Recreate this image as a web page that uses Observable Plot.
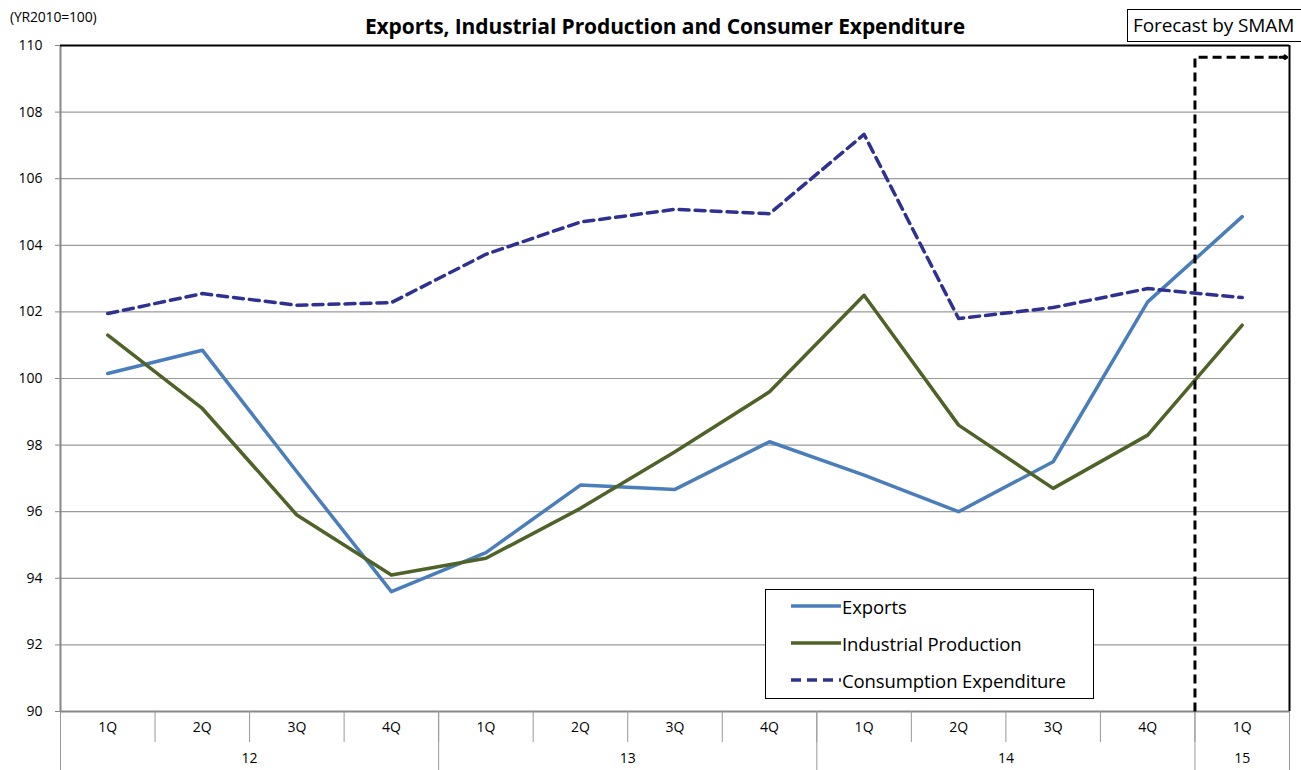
<!DOCTYPE html>
<html>
<head>
<meta charset="utf-8">
<script src="https://cdn.jsdelivr.net/npm/d3@7"></script>
<script src="https://cdn.jsdelivr.net/npm/@observablehq/plot@0.6"></script>
<style>
  body { margin: 0; background: #fff; font-family: "Open Sans", Lato, sans-serif; }
  #wrap { position: relative; width: 1301px; height: 770px; overflow: hidden; }
  #chart { position: absolute; left: 0; top: 0; }
  .title { position: absolute; left: 0; width: 1330px; top: 12px; text-align: center; font-weight: bold; font-size: 21px; color: #000; letter-spacing: -0.1px; }
  .unit { position: absolute; left: 10px; top: 7px; font-size: 14px; color: #000; letter-spacing: -0.2px; }
  .forecast { position: absolute; left: 1127px; top: 9px; width: 190px; height: 33px; border: 1px solid #000; box-sizing: border-box; font-size: 19px; line-height: 30px; padding-left: 5px; background: #fff; letter-spacing: -0.1px; }
  .legend { position: absolute; left: 765px; top: 589px; width: 329px; height: 110px; border: 1.5px solid #000; box-sizing: border-box; background: #fff; }
  .legend .row { position: absolute; left: 24px; height: 20px; display: flex; align-items: center; font-size: 18.5px; letter-spacing: -0.1px; }
  .legend svg { margin-right: 0px; }
</style>
</head>
<body>
<div id="wrap">
  <div id="chart"></div>
  <div class="unit">(YR2010=100)</div>
  <div class="title">Exports, Industrial Production and Consumer Expenditure</div>
  <div class="forecast">Forecast by SMAM</div>
  <div class="legend" id="legend"></div>
</div>
<script>
const quarters = ["1Q","2Q","3Q","4Q","1Q","2Q","3Q","4Q","1Q","2Q","3Q","4Q","1Q"];
const years = ["12","13","14","15"];
const yearCenters = [1.5, 5.5, 9.5, 12];
const yearBounds = [-0.5, 3.5, 7.5, 11.5, 12.5];
const exportsVals = [100.15, 100.85, 97.2, 93.6, 94.77, 96.8, 96.67, 98.1, 97.1, 96.0, 97.5, 102.3, 104.86];
const industrialVals = [101.3, 99.1, 95.9, 94.1, 94.6, 96.1, 97.8, 99.6, 102.5, 98.6, 96.7, 98.3, 101.6];
const consumptionVals = [101.95, 102.55, 102.2, 102.28, 103.73, 104.7, 105.08, 104.95, 107.33, 101.8, 102.13, 102.7, 102.43];
const seriesNames = ["Exports", "Industrial Production", "Consumption Expenditure"];
const seriesColors = ["#4a7ebb", "#4f6228", "#2e3192"];
const forecastStart = 11.5;
const forecastTop = 109.65;
const forecastEnd = 12.45;
const yTicks = [90, 92, 94, 96, 98, 100, 102, 104, 106, 108, 110];

const idx = quarters.map((_, i) => i);
const toRows = vals => vals.map((v, i) => ({i, v}));
const boundaries = d3.range(-0.5, 13, 1);

const forecastPath = [
  {x: forecastStart, y: 90},
  {x: forecastStart, y: forecastTop},
  {x: forecastEnd, y: forecastTop}
];

const chart = Plot.plot({
  width: 1301,
  height: 770,
  marginTop: 45,
  marginBottom: 59,
  marginLeft: 60,
  marginRight: 12,
  style: {fontFamily: "'Open Sans', Lato, sans-serif", fontSize: "14px", color: "#000", background: "transparent"},
  x: {type: "linear", domain: [-0.5, 12.5], axis: null},
  y: {domain: [90, 110], axis: null},
  marks: [
    Plot.gridY(yTicks.filter(d => d > 90 && d < 110), {stroke: "#9a9a9a", strokeOpacity: 1, strokeWidth: 1.2}),
    Plot.axisY(yTicks, {tickSize: 5, tickPadding: 13, stroke: "#888", fontSize: 14, tickFormat: d => d}),
    Plot.ruleX([-0.5], {stroke: "#888", strokeWidth: 2}),
    Plot.ruleY([90], {stroke: "#888", strokeWidth: 2}),
    Plot.ruleY([110], {stroke: "#000", strokeWidth: 2}),
    Plot.ruleX([12.5], {stroke: "#000", strokeWidth: 2}),
    Plot.axisX(boundaries, {tickSize: 31, tickFormat: () => "", stroke: "#999"}),
    Plot.axisX(yearBounds, {tickSize: 59, tickFormat: () => "", stroke: "#999"}),
    Plot.axisX(idx, {tickSize: 0, tickPadding: 11, tickFormat: i => quarters[i], fontSize: 14}),
    Plot.axisX(yearCenters, {tickSize: 0, tickPadding: 42, tickFormat: (d, k) => years[k], fontSize: 14}),
    Plot.line(toRows(exportsVals), {x: "i", y: "v", stroke: seriesColors[0], strokeWidth: 3.5}),
    Plot.line(toRows(industrialVals), {x: "i", y: "v", stroke: seriesColors[1], strokeWidth: 3.5}),
    Plot.line(toRows(consumptionVals), {x: "i", y: "v", stroke: seriesColors[2], strokeWidth: 3.5, strokeDasharray: "10,6"}),
    Plot.line(forecastPath, {x: "x", y: "y", stroke: "#000", strokeWidth: 3, strokeDasharray: "9,5", strokeLinejoin: "miter", strokeLinecap: "butt"}),
    Plot.arrow([forecastPath[2]], {x1: d => d.x - 0.05, y1: "y", x2: d => d.x + 0.02, y2: "y", stroke: "#000", strokeWidth: 3, headLength: 10, headAngle: 70})
  ]
});
document.getElementById("chart").appendChild(chart);

const legend = document.getElementById("legend");
const rowTops = [6, 43, 80];
seriesNames.forEach((name, k) => {
  const row = document.createElement("div");
  row.className = "row";
  row.style.top = rowTops[k] + "px";
  const dash = k === 2 ? 'stroke-dasharray="10,6"' : "";
  row.innerHTML = `<svg width="52" height="10"><line x1="1" y1="5" x2="51" y2="5" stroke="${seriesColors[k]}" stroke-width="3.5" ${dash}/></svg><span>${name}</span>`;
  legend.appendChild(row);
});
</script>
</body>
</html>
